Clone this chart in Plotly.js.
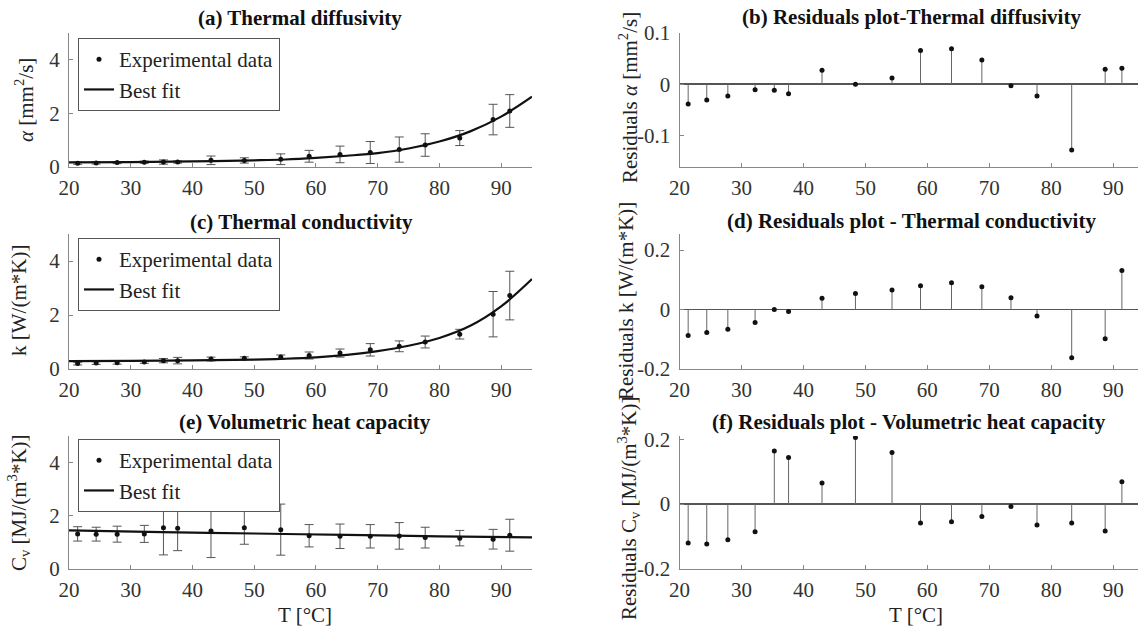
<!DOCTYPE html>
<html>
<head>
<meta charset="utf-8">
<script src="https://cdn.plot.ly/plotly-3.0.1.min.js"></script>
<style>html,body{margin:0;padding:0;background:#fff;}#chart{width:1138px;height:629px;}</style>
</head>
<body>
<div id="chart"></div>
<script>
// ---- data ----
const temperature = [21.4, 24.4, 27.8, 32.2, 35.3, 37.6, 43.0, 48.4, 54.3, 58.9, 63.9, 68.8, 73.5, 77.7, 83.3, 88.7, 91.4];

const alphaData = [0.14, 0.15, 0.165, 0.18, 0.185, 0.185, 0.25, 0.245, 0.29, 0.40, 0.47, 0.54, 0.65, 0.82, 1.08, 1.77, 2.09];
const alphaErr  = [0.04, 0.04, 0.04, 0.04, 0.08, 0.04, 0.16, 0.10, 0.20, 0.22, 0.31, 0.41, 0.47, 0.42, 0.28, 0.57, 0.61];
const alphaFitT = [20, 30, 40, 50, 55, 60, 65, 70, 75, 80, 85, 90, 95];
const alphaFit  = [0.17, 0.185, 0.21, 0.25, 0.28, 0.34, 0.42, 0.52, 0.69, 0.95, 1.33, 1.88, 2.62];
const alphaResid = [-0.039, -0.031, -0.023, -0.011, -0.012, -0.019, 0.027, 0.0, 0.012, 0.066, 0.069, 0.047, -0.003, -0.023, -0.129, 0.029, 0.031];

const kData = [0.20, 0.22, 0.23, 0.26, 0.31, 0.31, 0.37, 0.40, 0.44, 0.50, 0.59, 0.71, 0.84, 1.00, 1.29, 2.03, 2.72];
const kErr  = [0.05, 0.05, 0.05, 0.05, 0.08, 0.12, 0.07, 0.05, 0.08, 0.13, 0.15, 0.23, 0.20, 0.22, 0.18, 0.84, 0.90];
const kFitT = [20, 30, 40, 50, 55, 60, 65, 70, 75, 80, 85, 90, 95];
const kFit  = [0.29, 0.30, 0.32, 0.35, 0.38, 0.43, 0.52, 0.66, 0.86, 1.15, 1.60, 2.32, 3.33];
const kResid = [-0.087, -0.077, -0.066, -0.044, 0.0, -0.007, 0.038, 0.054, 0.066, 0.080, 0.090, 0.077, 0.040, -0.022, -0.162, -0.098, 0.131];

const cvData = [1.32, 1.31, 1.31, 1.32, 1.55, 1.53, 1.43, 1.55, 1.48, 1.25, 1.23, 1.23, 1.245, 1.18, 1.16, 1.12, 1.27];
const cvErr  = [0.27, 0.26, 0.30, 0.32, 1.02, 0.84, 1.00, 0.62, 0.96, 0.42, 0.46, 0.44, 0.50, 0.39, 0.29, 0.37, 0.60];
const cvFitT = [20, 35, 50, 65, 80, 95];
const cvFit  = [1.45, 1.39, 1.335, 1.28, 1.23, 1.19];
const cvResid = [-0.120, -0.123, -0.110, -0.085, 0.164, 0.144, 0.065, 0.205, 0.159, -0.058, -0.054, -0.038, -0.007, -0.064, -0.058, -0.083, 0.069];

const xTicks = [20, 30, 40, 50, 60, 70, 80, 90];
const leftYTicks = [0, 2, 4];
const bYTicks = [-0.1, 0, 0.1];
const bYTickText = ['-0.1', '0', '0.1'];
const dfYTicks = [-0.2, 0, 0.2];
const dfYTickText = ['-0.2', '0', '0.2'];

// ---- styling helpers ----
const W = 1138, H = 629;
const FONT = 'Liberation Serif, Times New Roman, serif';
const px = v => v / W;
const py = v => 1 - v / H;

function dataTrace(y, err, xa, ya, leg) {
  return {
    x: temperature, y: y, xaxis: xa, yaxis: ya, legend: leg,
    type: 'scatter', mode: 'markers', name: 'Experimental data',
    marker: {color: '#111', size: 5},
    error_y: {type: 'data', array: err, visible: true, color: '#555', thickness: 1, width: 4.5}
  };
}
function fitTrace(xs, ys, xa, ya, leg) {
  return {
    x: xs, y: ys, xaxis: xa, yaxis: ya, legend: leg,
    type: 'scatter', mode: 'lines', name: 'Best fit',
    line: {color: '#111', width: 2.2, shape: 'spline', smoothing: 1}
  };
}
function stemTrace(r, xa, ya) {
  return {
    x: temperature, y: r, xaxis: xa, yaxis: ya, showlegend: false,
    type: 'scatter', mode: 'markers',
    marker: {color: '#111', size: 5},
    error_y: {type: 'data', symmetric: false, visible: true,
      array: r.map(v => v < 0 ? -v : 0),
      arrayminus: r.map(v => v > 0 ? v : 0),
      color: '#666', thickness: 1, width: 0}
  };
}

const traces = [
  dataTrace(alphaData, alphaErr, 'x', 'y', 'legend'),
  fitTrace(alphaFitT, alphaFit, 'x', 'y', 'legend'),
  stemTrace(alphaResid, 'x2', 'y2'),
  dataTrace(kData, kErr, 'x3', 'y3', 'legend2'),
  fitTrace(kFitT, kFit, 'x3', 'y3', 'legend2'),
  stemTrace(kResid, 'x4', 'y4'),
  dataTrace(cvData, cvErr, 'x5', 'y5', 'legend3'),
  fitTrace(cvFitT, cvFit, 'x5', 'y5', 'legend3'),
  stemTrace(cvResid, 'x6', 'y6')
];

const tickFont = {family: FONT, size: 21, color: '#333'};
function xAx(domain, range, anchor) {
  return {domain: domain, range: range, anchor: anchor, tickvals: xTicks, ticks: 'inside', ticklen: 4,
    tickcolor: '#888', showline: true, linecolor: '#888', linewidth: 1, showgrid: false, zeroline: false,
    tickfont: tickFont, ticklabelstandoff: 2, fixedrange: true};
}
function yAx(domain, range, anchor, vals, text, zl) {
  const o = {domain: domain, range: range, anchor: anchor, tickvals: vals, ticks: 'inside', ticklen: 4,
    tickcolor: '#888', showline: true, linecolor: '#888', linewidth: 1, showgrid: false,
    zeroline: !!zl, zerolinecolor: '#555', zerolinewidth: 1.5, tickfont: tickFont,
    ticklabelstandoff: 4, fixedrange: true};
  if (text) o.ticktext = text;
  return o;
}

const LX = [px(69), px(532)];
const RX = [px(679.5), 1];
const R1 = [py(167), py(33)];
const R2 = [py(369), py(234)];
const R3 = [py(569), py(436)];

function legendCfg(topPx) {
  return {x: px(78), y: py(topPx), xanchor: 'left', yanchor: 'top', bgcolor: '#fff',
    bordercolor: '#555', borderwidth: 1, font: {family: FONT, size: 21, color: '#222'}, traceorder: 'normal'};
}

function ann(text, xpx, ypx, opts) {
  return Object.assign({text: text, x: px(xpx), y: py(ypx), xref: 'paper', yref: 'paper',
    showarrow: false, xanchor: 'center', yanchor: 'middle',
    font: {family: FONT, size: 21, color: '#222'}}, opts || {});
}
const titleFont = {family: FONT, size: 21, color: '#111'};
const annotations = [
  ann('<b>(a) Thermal diffusivity</b>', 300, 18, {font: titleFont}),
  ann('<b>(b) Residuals plot-Thermal diffusivity</b>', 911, 17, {font: titleFont}),
  ann('<b>(c) Thermal conductivity</b>', 301, 222, {font: titleFont}),
  ann('<b>(d) Residuals plot - Thermal conductivity</b>', 911, 221, {font: titleFont}),
  ann('<b>(e) Volumetric heat capacity</b>', 305, 422, {font: titleFont}),
  ann('<b>(f) Residuals plot - Volumetric heat capacity</b>', 909, 422, {font: titleFont}),
  ann('<i>α</i> [mm<sup>2</sup>/s]', 24, 100, {textangle: -90}),
  ann('k [W/(m*K)]', 19, 301, {textangle: -90}),
  ann('C<sub>v</sub> [MJ/(m<sup>3</sup>*K)]', 18, 503, {textangle: -90}),
  ann('Residuals <i>α</i> [mm<sup>2</sup>/s]', 628, 98, {textangle: -90}),
  ann('Residuals k [W/(m*K)]', 626, 301, {textangle: -90}),
  ann('Residuals C<sub>v</sub> [MJ/(m<sup>3</sup>*K)]', 628, 508, {textangle: -90}),
  ann('T [°C]', 305, 629, {yanchor: 'bottom'.replace('bottom','bottom')}),
  ann('T [°C]', 916, 629, {yanchor: 'bottom'})
];
annotations[annotations.length - 2].yanchor = 'bottom';

const layout = {
  width: W, height: H, autosize: false,
  margin: {l: 0, r: 0, t: 0, b: 0},
  paper_bgcolor: '#fff', plot_bgcolor: '#fff',
  font: {family: FONT},
  xaxis: xAx(LX, [20, 95], 'y'),
  yaxis: yAx(R1, [0, 5], 'x', leftYTicks),
  xaxis2: xAx(RX, [20, 94], 'y2'),
  yaxis2: yAx(R1, [-0.162, 0.1], 'x2', bYTicks, bYTickText, true),
  xaxis3: xAx(LX, [20, 95], 'y3'),
  yaxis3: yAx(R2, [0, 5], 'x3', leftYTicks),
  xaxis4: xAx(RX, [20, 94], 'y4'),
  yaxis4: yAx(R2, [-0.2, 0.254], 'x4', dfYTicks, dfYTickText, true),
  xaxis5: xAx(LX, [20, 95], 'y5'),
  yaxis5: yAx(R3, [0, 5], 'x5', leftYTicks),
  xaxis6: xAx(RX, [20, 94], 'y6'),
  yaxis6: yAx(R3, [-0.2, 0.21], 'x6', dfYTicks, dfYTickText, true),
  legend: legendCfg(38),
  legend2: legendCfg(238),
  legend3: legendCfg(439),
  annotations: annotations
};

Plotly.newPlot('chart', traces, layout, {staticPlot: true, displayModeBar: false});
</script>
</body>
</html>
